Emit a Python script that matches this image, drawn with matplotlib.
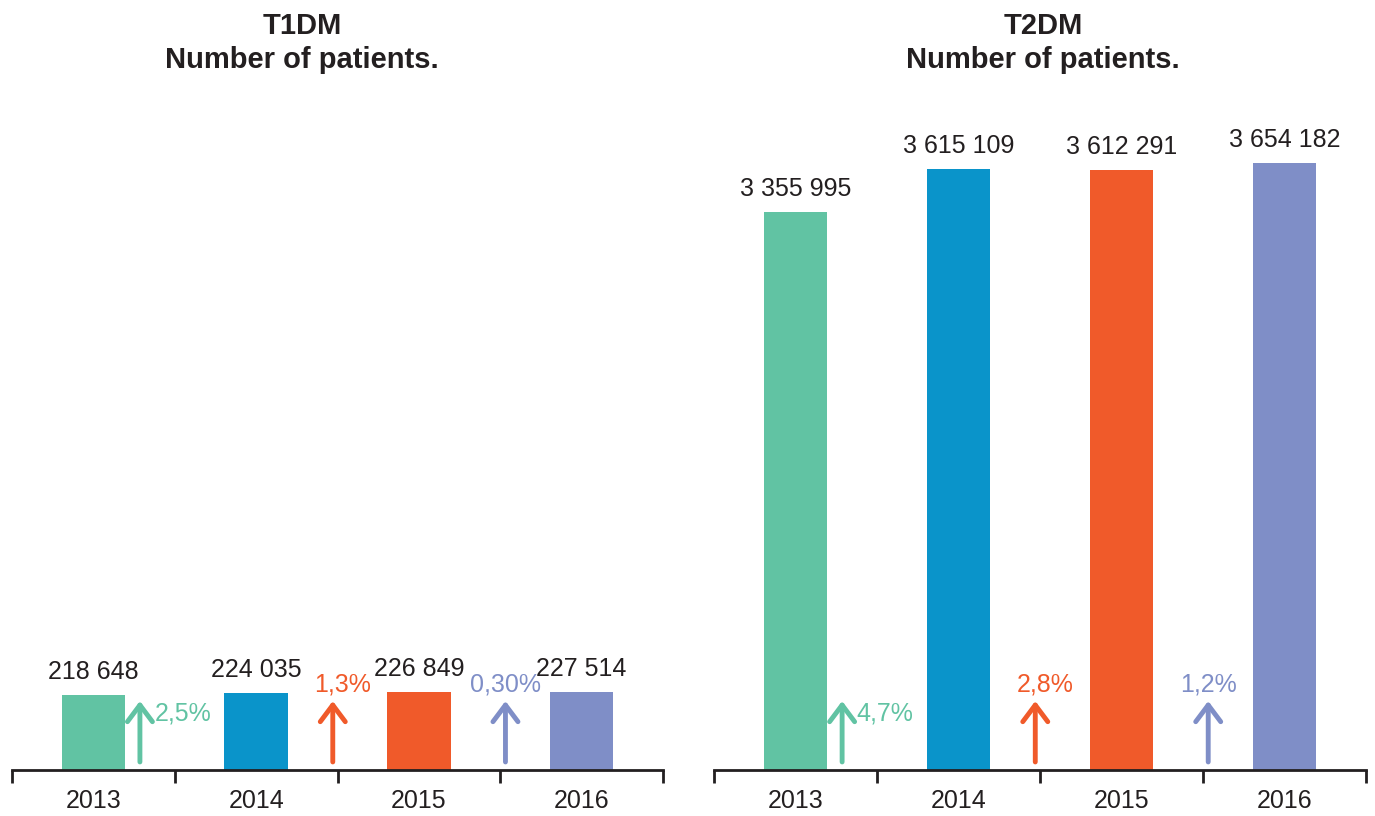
import matplotlib
matplotlib.use("Agg")
import matplotlib.pyplot as plt

years = ["2013", "2014", "2015", "2016"]
t1_values = [218648, 224035, 226849, 227514]
t2_values = [3355995, 3615109, 3612291, 3654182]
t1_labels = ["218 648", "224 035", "226 849", "227 514"]
t2_labels = ["3 355 995", "3 615 109", "3 612 291", "3 654 182"]
t1_growth = ["2,5%", "1,3%", "0,30%"]
t2_growth = ["4,7%", "2,8%", "1,2%"]
colors = ["#61C3A3", "#0A94CA", "#F05A2A", "#7F8EC7"]
text_color = "#231F20"
FONT = "Liberation Sans"

fig = plt.figure(figsize=(13.75, 8.16), dpi=100)
H = 816.0
W = 1375.0
ax_bottom = (H - 770) / H
ax_height = 670 / H

panels = [
    (12, 651, t1_values, t1_labels, t1_growth, 1.954e6, "T1DM", 302),
    (714, 652, t2_values, t2_labels, t2_growth, 4.033e6, "T2DM", 1043),
]

arrow_x = [0.286, 1.471, 2.532]
# label placement: (dx offset from arrow in data, y in axes fraction, ha)
label_pos = [(0.09, 0.084, "left"), (0.06, 0.128, "center"), (0.0, 0.128, "center")]

for left, width, vals, labs, growth, ymax, title, tx in panels:
    ax = fig.add_axes([left / W, ax_bottom, width / W, ax_height])
    x = list(range(len(years)))
    ax.bar(x, vals, width=0.39, color=colors)
    for xi, v, lab in zip(x, vals, labs):
        ax.annotate(lab, (xi, v), xytext=(0, 8), textcoords="offset points",
                    ha="center", va="bottom", fontsize=18, family=FONT, color=text_color)
    trans = ax.get_xaxis_transform()
    for i, (ax_x, g) in enumerate(zip(arrow_x, growth)):
        c = colors[i + 1] if i > 0 else colors[0]
        ax.annotate("", xy=(ax_x, 0.103), xytext=(ax_x, 0.012), xycoords=trans, textcoords=trans,
                    arrowprops=dict(arrowstyle="->,head_length=0.6,head_width=0.45",
                                    color=c, lw=3.5, mutation_scale=20, shrinkA=0, shrinkB=0))
        dx, yy, ha = label_pos[i]
        ax.text(ax_x + dx, yy, g, transform=trans, ha=ha, va="center",
                fontsize=18, family=FONT, color=c)
    ax.set_xlim(-0.5, 3.5)
    ax.set_ylim(0, ymax)
    for s in ["top", "right", "left"]:
        ax.spines[s].set_visible(False)
    ax.spines["bottom"].set_linewidth(2)
    ax.spines["bottom"].set_color(text_color)
    ax.set_yticks([])
    ax.set_xticks([-0.5, 0.5, 1.5, 2.5, 3.5])
    ax.set_xticklabels([])
    ax.tick_params(axis="x", which="major", direction="out", length=9, width=2, color=text_color)
    ax.set_xticks(x, minor=True)
    ax.set_xticklabels(years, minor=True, fontsize=18, family=FONT, color=text_color)
    ax.tick_params(axis="x", which="minor", length=0, pad=14)
    fig.text(tx / W, 1 - 26 / H, title, ha="center", va="center", fontsize=21,
             fontweight="bold", family=FONT, color=text_color)
    fig.text(tx / W, 1 - 60 / H, "Number of patients.", ha="center", va="center", fontsize=21,
             fontweight="bold", family=FONT, color=text_color)

fig.savefig("out.png", dpi=100, facecolor="white")
